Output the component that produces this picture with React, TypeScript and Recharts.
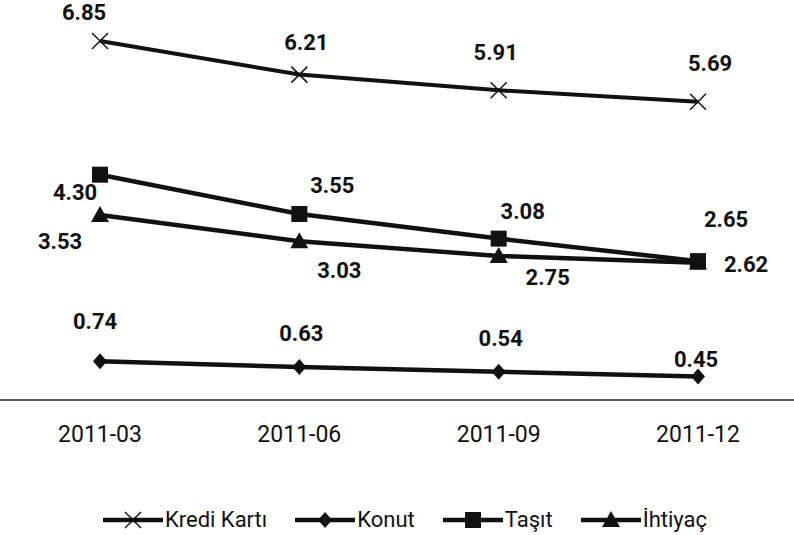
import React from 'react';
import { LabelList, Legend, Line, LineChart, XAxis, YAxis } from 'recharts';

const categories = ['2011-03', '2011-06', '2011-09', '2011-12'];
const krediKarti = [6.85, 6.21, 5.91, 5.69];
const konut = [0.74, 0.63, 0.54, 0.45];
const tasit = [4.3, 3.55, 3.08, 2.65];
const ihtiyac = [3.53, 3.03, 2.75, 2.62];

const data = categories.map((c, i) => ({
  month: c,
  kredi: krediKarti[i],
  konut: konut[i],
  tasit: tasit[i],
  ihtiyac: ihtiyac[i],
}));

// where each value label sits relative to its marker (dx, dy of the text centre)
const LABEL_OFFSETS: Record<string, [number, number][]> = {
  kredi: [[-16, -29], [7, -32], [-3, -38], [12, -38]],
  konut: [[-5, -40], [2, -33], [2, -33], [-2, -17]],
  tasit: [[-25, 18], [33, -28], [24, -27], [28, -42]],
  ihtiyac: [[-40, 26], [40, 29], [49, 22], [48, 2]],
};

const FONT = 'Roboto, "Noto Sans", sans-serif';
const INK = '#111';

const makeLabel = (key: string) => (props: any) => {
  const { x, y, value, index } = props;
  const [dx, dy] = LABEL_OFFSETS[key][index];
  return (
    <text
      x={x + dx}
      y={y + dy}
      textAnchor="middle"
      dominantBaseline="central"
      fontFamily={FONT}
      fontWeight={700}
      fontSize={22}
      fill={INK}
    >
      {Number(value).toFixed(2)}
    </text>
  );
};

const Cross = ({ cx, cy }: any) => (
  <g stroke={INK} strokeWidth={1.5}>
    <line x1={cx - 8} y1={cy - 8} x2={cx + 8} y2={cy + 8} />
    <line x1={cx - 8} y1={cy + 8} x2={cx + 8} y2={cy - 8} />
  </g>
);
const Diamond = ({ cx, cy }: any) => (
  <polygon points={`${cx},${cy - 8} ${cx + 7},${cy} ${cx},${cy + 8} ${cx - 7},${cy}`} fill={INK} />
);
const Square = ({ cx, cy }: any) => <rect x={cx - 8} y={cy - 8} width={16} height={16} fill={INK} />;
const Triangle = ({ cx, cy }: any) => (
  <polygon points={`${cx},${cy - 9} ${cx + 9},${cy + 7} ${cx - 9},${cy + 7}`} fill={INK} />
);

const LEGEND = [
  { name: 'Kredi Kartı', Mark: Cross },
  { name: 'Konut', Mark: Diamond },
  { name: 'Taşıt', Mark: Square },
  { name: 'İhtiyaç', Mark: Triangle },
];

const LegendContent = () => (
  <div
    style={{
      display: 'flex',
      justifyContent: 'center',
      gap: 28,
      height: 24,
      paddingLeft: 16,
      fontFamily: FONT,
      fontSize: 22,
      lineHeight: '24px',
      color: INK,
    }}
  >
    {LEGEND.map(({ name, Mark }) => (
      <span key={name} style={{ display: 'flex', alignItems: 'center' }}>
        <svg width={60} height={24}>
          <line x1={0} y1={12} x2={60} y2={12} stroke={INK} strokeWidth={4.5} />
          <Mark cx={30} cy={12} />
        </svg>
        <span style={{ marginLeft: 2 }}>{name}</span>
      </span>
    ))}
  </div>
);

export default function App() {
  return (
    <div style={{ position: 'absolute', left: 0, top: 0, width: 794, height: 535, background: '#fff' }}>
      <LineChart width={794} height={535} data={data} margin={{ top: 7, right: 0, left: 0, bottom: 81 }}>
        <XAxis
          dataKey="month"
          height={30}
          padding={{ left: 100, right: 96 }}
          axisLine={{ stroke: '#222', strokeWidth: 1.5 }}
          tickLine={false}
          tickSize={0}
          tickMargin={26}
          tick={{ fontFamily: FONT, fontSize: 23, fill: INK }}
        />
        <YAxis hide domain={[0, 7.5]} />
        <Legend
          verticalAlign="bottom"
          content={<LegendContent />}
          wrapperStyle={{ top: 508, left: 0, width: 794 }}
        />
        <Line dataKey="kredi" name="Kredi Kartı" stroke={INK} strokeWidth={4} dot={<Cross />} activeDot={false} isAnimationActive={false}>
          <LabelList dataKey="kredi" content={makeLabel('kredi')} />
        </Line>
        <Line dataKey="konut" name="Konut" stroke={INK} strokeWidth={4.5} dot={<Diamond />} activeDot={false} isAnimationActive={false}>
          <LabelList dataKey="konut" content={makeLabel('konut')} />
        </Line>
        <Line dataKey="ihtiyac" name="İhtiyaç" stroke={INK} strokeWidth={4.5} dot={<Triangle />} activeDot={false} isAnimationActive={false}>
          <LabelList dataKey="ihtiyac" content={makeLabel('ihtiyac')} />
        </Line>
        <Line dataKey="tasit" name="Taşıt" stroke={INK} strokeWidth={4.5} dot={<Square />} activeDot={false} isAnimationActive={false}>
          <LabelList dataKey="tasit" content={makeLabel('tasit')} />
        </Line>
      </LineChart>
    </div>
  );
}
